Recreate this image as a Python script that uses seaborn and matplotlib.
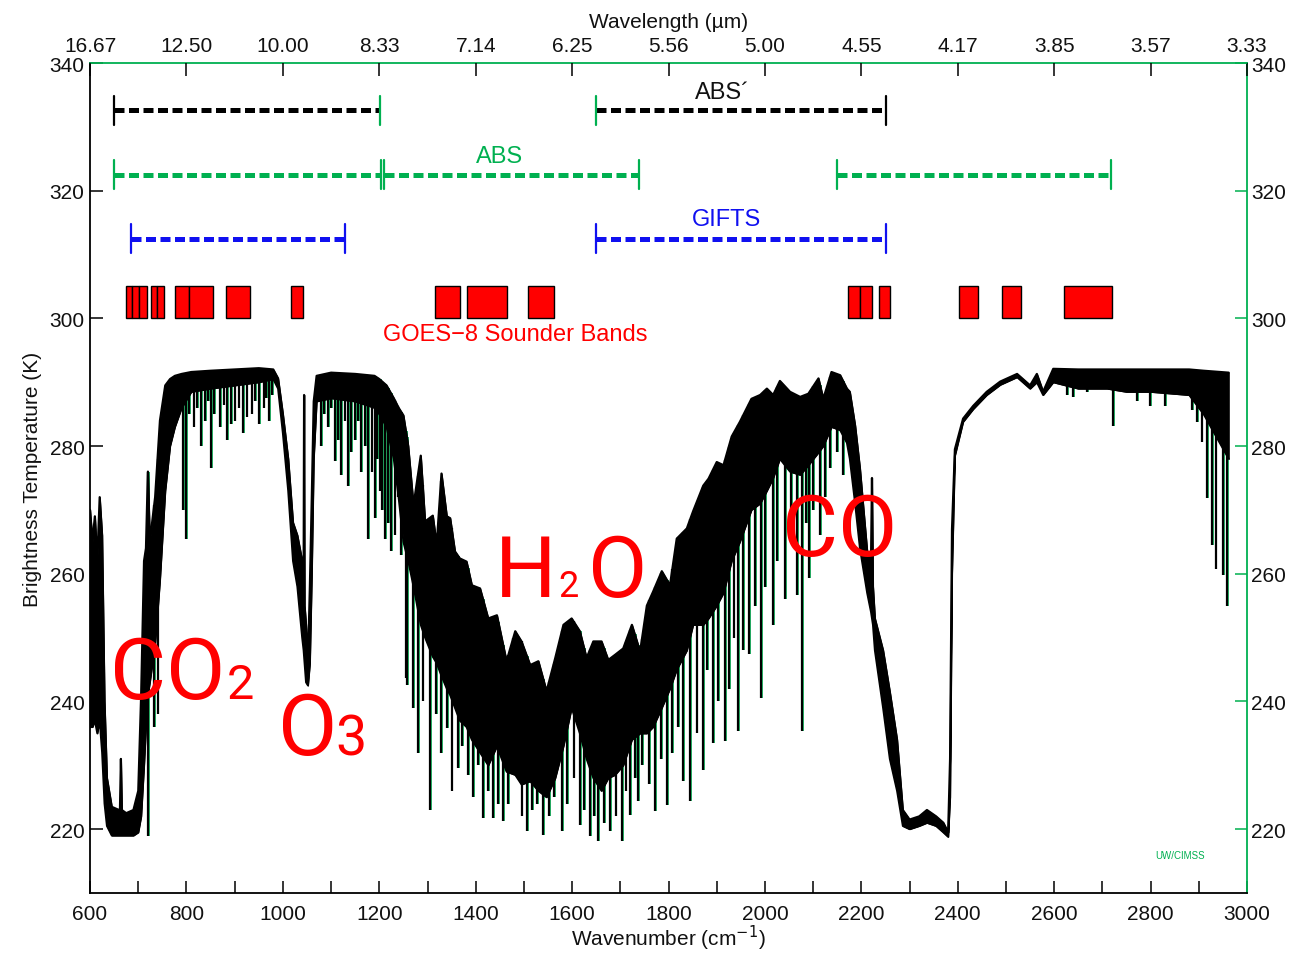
import numpy as np
import matplotlib
matplotlib.use("Agg")
import matplotlib.pyplot as plt
import seaborn as sns

# ---------------- data ----------------
# envelope of the dense brightness-temperature spectrum
env_wn = [600, 605, 610, 615, 620, 625, 630, 635, 645, 660, 662, 664, 666, 675, 690, 700, 706, 712,
          716, 720, 724, 735, 745, 756, 766, 776, 790, 810, 850, 900, 950, 980, 990, 1000, 1011, 1021,
          1030, 1040, 1043, 1044, 1045, 1048, 1052, 1056, 1060, 1064, 1070, 1100, 1150, 1190, 1200,
          1215, 1230, 1240, 1250, 1260, 1271, 1286, 1295, 1311, 1319, 1329, 1340, 1347, 1357, 1367,
          1381, 1392, 1409, 1426, 1444, 1464, 1482, 1495, 1513, 1530, 1547, 1565, 1582, 1599, 1616,
          1630, 1644, 1661, 1675, 1689, 1706, 1724, 1741, 1755, 1768, 1786, 1803, 1817, 1838, 1851,
          1872, 1883, 1900, 1914, 1931, 1948, 1972, 1990, 2004, 2017, 2031, 2052, 2073, 2090, 2111,
          2121, 2138, 2156, 2170, 2176, 2187, 2197, 2212, 2220, 2222, 2224, 2228, 2245, 2259, 2274,
          2286, 2300, 2320, 2336, 2355, 2370, 2380, 2384, 2388, 2394, 2411, 2432, 2460, 2488, 2523,
          2550, 2564, 2577, 2598, 2650, 2710, 2750, 2800, 2880, 2910, 2962]
env_hi = [270, 265, 269, 262, 272, 266, 240, 228, 223.5, 223, 223, 231, 223, 222.5, 223, 226, 241, 262,
          264, 276, 265, 272, 284, 289.5, 290.5, 291, 291.3, 291.6, 291.8, 292, 292.2, 292, 290.6, 285, 278, 268,
          266, 262, 258, 288, 255, 252, 246, 258, 272, 287, 291, 291.5, 291.3, 291, 290.5,
          289.5, 287.5, 286, 284.8, 280, 270.7, 278.5, 268.2, 269.1, 264.5, 275.7, 269, 268.7, 263.5, 262.4,
          261.9, 258.2, 257.7, 253, 253.5, 246.3, 251, 249.4, 245.7, 246.3, 241.6, 246.8, 252, 253, 251,
          246.8, 249.4, 249.4, 246.5, 247.3, 248.3, 252, 247.8, 255, 257.2, 260.4, 258.2, 265.5, 267.1, 269.8,
          273.8, 274.9, 277.5, 277, 281.5, 283.8, 287.4, 288, 289, 288, 290.2, 288.5, 287.7, 288.2, 290.6,
          287.4, 291.6, 291.1, 289, 288.5, 283.2, 276.5, 263.5, 262, 275, 258, 253, 248, 241.5, 234,
          223, 221.5, 222, 223, 222, 221, 219.5, 231, 267, 279.5, 284.3, 286.3, 288.5, 290.1, 291.3,
          289.5, 291.3, 288.5, 292.1, 292, 292, 292, 292, 292, 291.8, 291.5]
env_lo = [236, 236, 237, 235, 237, 232, 224, 220.5, 219, 219, 219, 219, 219, 219, 219, 219.5, 222, 230,
          236, 241, 243, 249, 259, 273, 280, 283, 286, 288.5, 289, 289.5, 290, 290.5, 289, 282, 273, 262,
          258, 250, 248, 247, 246, 243, 242.5, 246, 260, 278, 287, 287.5, 287, 286, 285,
          283, 278, 272, 265, 262, 258, 252, 250, 247, 246, 244, 242, 241, 239, 237,
          236, 234, 232, 230, 233, 229, 228.5, 227, 227.5, 226, 225, 228, 233, 239, 235,
          231, 228, 226, 228, 228.5, 230, 234, 235, 235, 236, 239, 242, 245, 248, 252,
          252, 253, 255, 257, 262, 265, 270, 271, 273, 275, 278, 276, 275.5, 277, 279,
          280, 283, 282.5, 280.5, 278, 271, 264, 257, 254, 253, 252, 248, 239, 231, 226,
          220.5, 220, 220.5, 221, 220.5, 219.5, 218.8, 225, 260, 278.5, 283.8, 285.8, 288, 289.6, 290.8,
          289, 290, 288, 290, 289, 289, 288.5, 288.5, 288, 285, 278]

# narrow absorption lines reaching below the dense band
spike_wn = [720, 733, 740, 793, 799, 806, 815, 822, 830, 838, 845, 851, 858, 870, 877, 885, 892, 900,
            908, 918, 925, 935, 942, 950, 960, 965, 972, 978,
            1079, 1086, 1094, 1100, 1108, 1114, 1121, 1128, 1135, 1142, 1150, 1156, 1162, 1170, 1177,
            1184, 1191, 1196, 1201, 1206, 1212, 1218, 1224, 1232, 1238, 1245, 1255, 1257, 1270,
            1280, 1290, 1305, 1318, 1328, 1340, 1350, 1363, 1372, 1384, 1395, 1405, 1415, 1425, 1436,
            1447, 1457, 1468, 1478, 1495, 1506, 1517, 1528, 1540, 1552, 1562, 1579, 1590, 1603, 1616,
            1625, 1637, 1645, 1654, 1666, 1679, 1690, 1703, 1711, 1720, 1730, 1737, 1745, 1760, 1772,
            1784, 1797, 1808, 1820, 1830, 1845, 1858, 1871, 1880, 1892, 1903, 1917, 1925, 1935, 1944,
            1955, 1967, 1980, 1992, 2000, 2017, 2025, 2042, 2055, 2066, 2077, 2085, 2091, 2100, 2114,
            2125, 2135, 2150, 2162,
            2627, 2640, 2668, 2722, 2772, 2799, 2830, 2886, 2896, 2906, 2917, 2927, 2935, 2950, 2959]
spike_lo = [219, 236, 238, 270, 265.5, 285, 283, 286, 280, 284, 287, 276.5, 285, 283, 286.5, 281, 283.5, 284,
            286, 282, 284.5, 285, 287, 283.5, 286, 287.5, 284, 288,
            280, 285, 283, 286, 277.6, 281, 275.4, 284, 273.8, 279, 281, 284, 276, 280, 265.5,
            276, 268.7, 278, 272.9, 270, 265.5, 268, 263.5, 266, 272, 263, 243.6, 242.5, 239,
            232, 240, 223, 238, 232, 235.8, 226, 229.5, 233, 228.5, 225, 230, 221.7, 226, 221.7,
            224, 221.2, 224, 229, 222, 219.7, 223, 224, 219.1, 222, 225, 219.7, 224, 228, 220.6,
            223, 219, 222, 218.1, 221, 219.7, 222, 218.1, 226, 222.2, 228, 224.4, 230, 227, 222.8,
            231, 223.8, 232, 236, 227.5, 224.4, 235, 229.2, 245, 233.5, 240, 233.8, 242, 250, 235.3,
            248, 247.5, 255, 240.5, 258, 252, 262, 256.1, 265, 256.6, 235.3, 268, 259.3, 270, 266,
            272, 276.5, 279, 275.4,
            288, 287.7, 288.5, 283.2, 287, 286.3, 286.3, 285.6, 283.8, 280.7, 271.8, 264.5, 260.8, 259.8, 254.9]

absp_start = [650, 1650]
absp_end = [1201, 2251]
abs_start = [650, 1210, 2150]
abs_end = [1203, 1739, 2718]
gifts_start = [685, 1650]
gifts_end = [1129, 2251]
absp_T, abs_T, gifts_T = 332.6, 322.5, 312.5

goes_lo = [675, 688, 702, 727, 739, 776, 805, 882, 1017, 1316, 1381, 1509, 2173, 2197, 2237, 2403, 2492, 2620]
goes_hi = [688, 702, 718, 739, 753, 805, 855, 932, 1042, 1368, 1465, 1563, 2197, 2222, 2259, 2442, 2531, 2720]

x_ticks = [600, 800, 1000, 1200, 1400, 1600, 1800, 2000, 2200, 2400, 2600, 2800, 3000]
top_labels = ["16.67", "12.50", "10.00", "8.33", "7.14", "6.25", "5.56", "5.00", "4.55",
              "4.17", "3.85", "3.57", "3.33"]
y_ticks = [220, 240, 260, 280, 300, 320, 340]

# ---------------- styling ----------------
sns.set_theme(style="white")
plt.rcParams['font.family'] = ['Liberation Sans', 'DejaVu Sans']
GREEN = '#00b050'
BLUE = '#1010f0'
RED = '#ff0000'
TXT = '#111111'

fig = plt.figure(figsize=(12.92, 9.54), dpi=100)
ax = fig.add_axes([0.0697, 0.0629, 0.8955, 0.8700])
ax.set_xlim(600, 3000)
ax.set_ylim(210, 340)

# ---------------- spectrum ----------------
wn = np.array(env_wn, float)
hi = np.array(env_hi, float)
lo = np.array(env_lo, float)
ax.fill_between(wn, lo, hi, color='black', lw=0.8, zorder=3)
sns.lineplot(x=wn, y=hi, color='black', lw=1.6, ax=ax, estimator=None, zorder=4)
sns.lineplot(x=wn, y=lo, color='black', lw=1.4, ax=ax, estimator=None, zorder=4)
sw = np.array(spike_wn, float)
stop = np.interp(sw, wn, hi)
ax.vlines(sw + 1.6, spike_lo, stop, color=GREEN, lw=1.2, zorder=2)
ax.vlines(sw, spike_lo, stop, color='black', lw=1.6, zorder=3)

# ---------------- instrument bars ----------------
dash = (0, (2.0, 0.9))
cap = 2.3
for s, e in zip(absp_start, absp_end):
    ax.plot([s, e], [absp_T, absp_T], color='black', lw=3.6, linestyle=dash, dash_capstyle='butt')
for s, e, cl, cr in zip(absp_start, absp_end, ['black', GREEN], [GREEN, 'black']):
    ax.plot([s, s], [absp_T - cap, absp_T + cap], color=cl, lw=1.6)
    ax.plot([e, e], [absp_T - cap, absp_T + cap], color=cr, lw=1.6)
for s, e in zip(abs_start, abs_end):
    ax.plot([s, e], [abs_T, abs_T], color=GREEN, lw=3.6, linestyle=dash, dash_capstyle='butt')
    ax.plot([s, s], [abs_T - cap, abs_T + cap], color=GREEN, lw=1.6)
    ax.plot([e, e], [abs_T - cap, abs_T + cap], color=GREEN, lw=1.6)
for s, e in zip(gifts_start, gifts_end):
    ax.plot([s, e], [gifts_T, gifts_T], color=BLUE, lw=3.6, linestyle=dash, dash_capstyle='butt')
    ax.plot([s, s], [gifts_T - cap, gifts_T + cap], color=BLUE, lw=1.6)
    ax.plot([e, e], [gifts_T - cap, gifts_T + cap], color=BLUE, lw=1.6)

ax.text(1911, 335.5, "ABS\u00b4", color=TXT, fontsize=17, ha='center', va='center')
ax.text(1450, 325.5, "ABS", color=GREEN, fontsize=17, ha='center', va='center')
ax.text(1921, 315.6, "GIFTS", color=BLUE, fontsize=17, ha='center', va='center')

glo = np.array(goes_lo, float)
ghi = np.array(goes_hi, float)
ax.bar(glo, [5.0] * len(glo), width=ghi - glo, bottom=300, align='edge', color=RED,
       edgecolor='black', lw=1.0, zorder=3)
ax.text(1482, 297.6, "GOES\u22128 Sounder Bands", color=RED, fontsize=17, ha='center', va='center')

# ---------------- big molecule labels ----------------
big = dict(color=RED, family=['Roboto', 'DejaVu Sans'], va='baseline', ha='left', zorder=6)
ax.text(641, 240.5, "CO", fontsize=62, **big)
ax.text(884, 240.5, "2", fontsize=35, **big)
ax.text(990, 231.7, "O", fontsize=62, **big)
ax.text(1108, 231.7, "3", fontsize=40, **big)
ax.text(1440, 256.5, "H", fontsize=62, **big)
ax.text(1571, 256.5, "2", fontsize=26, **big)
ax.text(1633, 256.5, "O", fontsize=62, **big)
ax.text(2035, 262.9, "CO", fontsize=62, **big)

ax.text(2861, 216, "UW/CIMSS", color=GREEN, fontsize=7, ha='center', va='center')

# ---------------- axes ----------------
ax.set_xticks(x_ticks)
ax.set_xticks(np.arange(700, 3000, 200), minor=True)
ax.set_yticks(y_ticks)
ax.tick_params(axis='both', which='both', direction='in', length=9, width=1.1, colors='black',
               labelsize=15, labelcolor=TXT, pad=8)
ax.tick_params(axis='y', pad=4)
ax.set_xlabel("Wavenumber (cm$^{-1}$)", fontsize=15, color=TXT, labelpad=0)
ax.set_ylabel("Brightness Temperature (K)", fontsize=15, color=TXT, labelpad=5)
for side, col in [('left', 'black'), ('bottom', 'black'), ('top', GREEN), ('right', GREEN)]:
    ax.spines[side].set_color(col)
    ax.spines[side].set_linewidth(1.3)
    ax.spines[side].set_visible(True)

axt = ax.twiny()
axt.set_xlim(ax.get_xlim())
axt.set_xticks(x_ticks)
axt.set_xticklabels(top_labels)
axt.tick_params(axis='x', direction='in', length=9, width=1.1, colors='black', labelsize=15,
                labelcolor=TXT, pad=6)
axt.set_xlabel("Wavelength (\u00b5m)", fontsize=15, color=TXT, labelpad=6)
axr = ax.twinx()
axr.set_ylim(ax.get_ylim())
axr.set_yticks(y_ticks)
axr.tick_params(axis='y', direction='in', length=9, width=1.1, colors=GREEN, labelsize=15,
                labelcolor=TXT, pad=3)
for a in (axt, axr):
    for sp in a.spines.values():
        sp.set_visible(False)
    a.grid(False)
ax.grid(False)

fig.savefig("out.png", dpi=100)
